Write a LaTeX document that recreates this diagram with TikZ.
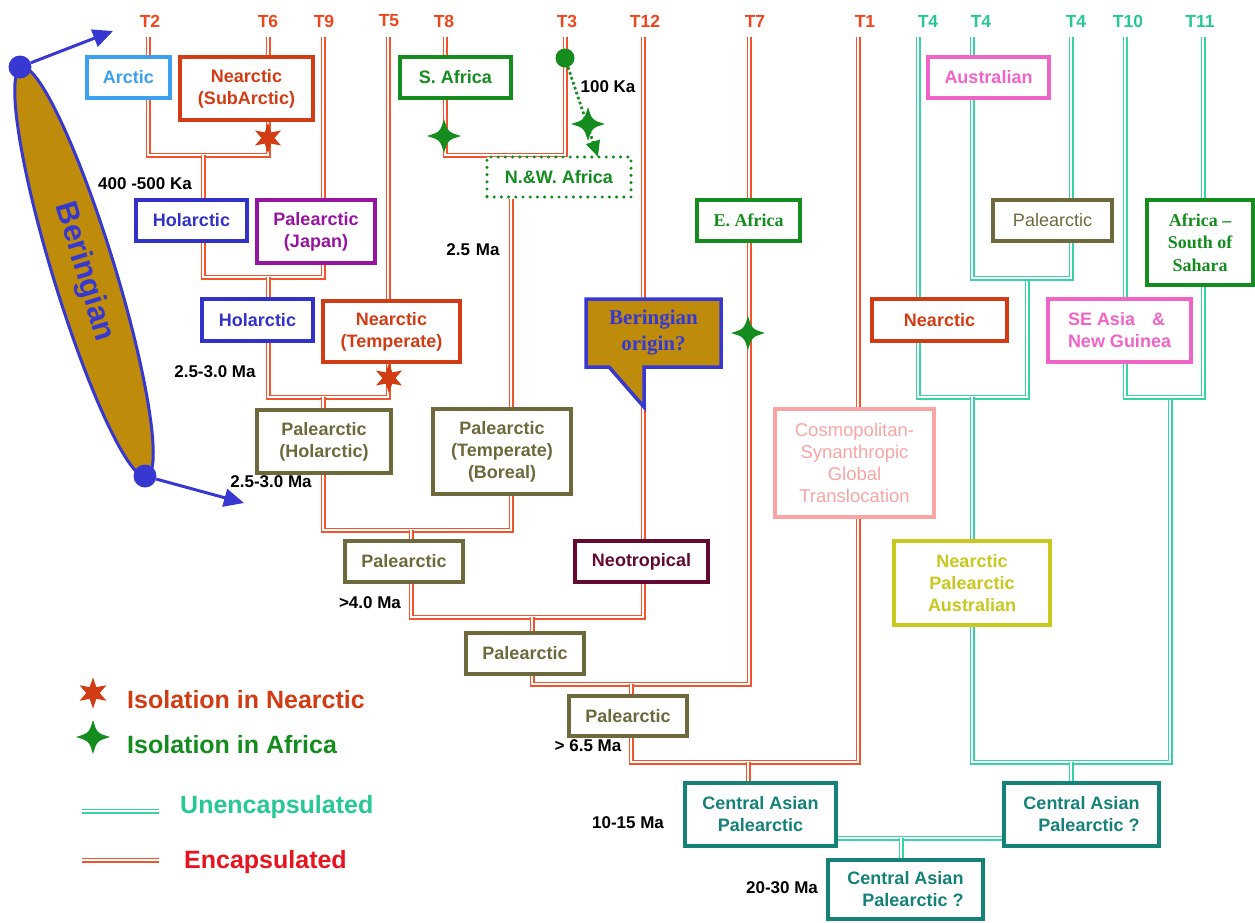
\documentclass[tikz,border=0pt]{standalone}
\usepackage{fontspec}
\setmainfont{Liberation Sans}
\newfontfamily\serifb{Liberation Serif}
\usetikzlibrary{shapes.geometric,arrows.meta}
\definecolor{encred}{RGB}{240,85,45}
\definecolor{unctea}{RGB}{55,210,165}
\definecolor{tred}{RGB}{240,70,30}
\definecolor{tteal}{RGB}{40,200,150}
\definecolor{arcblue}{RGB}{60,160,240}
\definecolor{nearred}{RGB}{210,60,20}
\definecolor{afgreen}{RGB}{20,140,30}
\definecolor{auspink}{RGB}{240,100,200}
\definecolor{holblue}{RGB}{50,50,200}
\definecolor{japurple}{RGB}{150,20,160}
\definecolor{olivebx}{RGB}{110,105,60}
\definecolor{cosmopink}{RGB}{250,165,165}
\definecolor{neomaroon}{RGB}{100,10,50}
\definecolor{npayellow}{RGB}{200,200,30}
\definecolor{cateal}{RGB}{20,130,120}
\definecolor{bergold}{RGB}{190,140,10}
\definecolor{berblue}{RGB}{55,55,210}
\definecolor{encleg}{RGB}{230,20,30}
\pgfdeclarelayer{bg}
\pgfsetlayers{bg,main}
\tikzset{
  enc/.style={draw=encred, double=white, double distance=1.8pt, line width=1.6pt},
  unc/.style={draw=unctea, double=white, double distance=1.8pt, line width=1.6pt},
  bx/.style={draw, line width=3.2pt, fill=white, align=center, inner sep=0pt,
    font=\bfseries\fontsize{18}{22}\selectfont},
  sz/.style 2 args={minimum width=#1pt, minimum height=#2pt},
  tlab/.style={font=\bfseries\fontsize{17.5}{20}\selectfont, inner sep=0pt},
  age/.style={font=\bfseries\fontsize{17}{20}\selectfont, inner sep=0pt, text=black},
  legtxt/.style={font=\bfseries\fontsize{25}{28}\selectfont, inner sep=0pt, anchor=base west},
  redstar/.style={star, star points=6, star point ratio=2.3, fill=nearred, draw=none,
    minimum size=#1pt, inner sep=0pt},
  sparkle/.pic={\fill[afgreen] (0,-17) .. controls (4,-4) .. (17,0)
     .. controls (4,4) .. (0,17) .. controls (-4,4) .. (-17,0)
     .. controls (-4,-4) .. (0,-17) -- cycle;},
}
\begin{document}
\begin{tikzpicture}[x=1pt,y=-1pt]
\useasboundingbox (0,0) rectangle (1255,922);

% ---------- top labels ----------
\node[tlab,text=tred] (lT2) at (150,21) {T2};
\node[tlab,text=tred] (lT6) at (268,21) {T6};
\node[tlab,text=tred] (lT9) at (324,21) {T9};
\node[tlab,text=tred] (lT5) at (389,21) {T5};
\node[tlab,text=tred] (lT8) at (444,21) {T8};
\node[tlab,text=tred] (lT3) at (567,21) {T3};
\node[tlab,text=tred] (lT12) at (645,21) {T12};
\node[tlab,text=tred] (lT7) at (755,21) {T7};
\node[tlab,text=tred] (lT1) at (865,21) {T1};
\node[tlab,text=tteal] (lT4a) at (928,21) {T4};
\node[tlab,text=tteal] (lT4b) at (981,21) {T4};
\node[tlab,text=tteal] (lT4c) at (1076,21) {T4};
\node[tlab,text=tteal] (lT10) at (1128,21) {T10};
\node[tlab,text=tteal] (lT11) at (1200,21) {T11};

\coordinate (c2) at (148,37);
\coordinate (c6) at (268,37);
\coordinate (c9) at (323,37);
\coordinate (c5) at (388,37);
\coordinate (c8) at (445,37);
\coordinate (c3) at (565,37);
\coordinate (c12) at (643,37);
\coordinate (c7) at (749,37);
\coordinate (c1) at (858,37);
\coordinate (c4a) at (918,37);
\coordinate (c4b) at (972,37);
\coordinate (c4c) at (1071,37);
\coordinate (c10) at (1125,37);
\coordinate (c11) at (1203,37);

\coordinate (j1) at (203,155);
\coordinate (j2) at (268,277);
\coordinate (j3) at (323,397);
\coordinate (j4) at (411,530);
\coordinate (j5) at (532,617);
\coordinate (j6) at (631,684);
\coordinate (j7) at (748,762);
\coordinate (jaf) at (505,155);
\coordinate (xnw) at (511,0);
\coordinate (j8) at (1027,278);
\coordinate (j9) at (972,397);
\coordinate (j10) at (1071,762);
\coordinate (j11) at (1170,397);
\coordinate (jh) at (901,838);

% ---------- boxes ----------
\node[bx,draw=arcblue,text=arcblue,sz={83}{41}] (arctic) at (128.5,77.5) {Arctic};
\node[bx,draw=nearred,text=nearred,sz={133}{63}] (nsub) at (246.5,88.5) {Nearctic\\(SubArctic)};
\node[bx,draw=afgreen,text=afgreen,sz={111}{41}] (safr) at (455.5,77.5) {S. Africa};
\node[bx,draw=auspink,text=auspink,sz={121}{41}] (austr) at (988.5,77.5) {Australian};
\node[bx,draw=holblue,text=holblue,sz={111}{41}] (hol1) at (191.5,220.5) {Holarctic};
\node[bx,draw=japurple,text=japurple,sz={118}{63}] (japan) at (316,231.5) {Palearctic\\(Japan)};
\node[bx,draw=afgreen,text=afgreen,sz={144}{40},line width=3.4pt,line cap=round,
  dash pattern=on 0pt off 7.2pt] (nwafr) at (559,177) {N.\&W. Africa};
\node[bx,draw=afgreen,text=afgreen,sz={103}{41},font=\serifb\bfseries\fontsize{18}{22}\selectfont] (eafr) at (748.5,220.5) {E. Africa};
\node[bx,draw=olivebx,text=olivebx,sz={119}{41},font=\fontsize{18}{22}\selectfont] (pal1) at (1052.5,220.5) {Palearctic};
\node[bx,draw=afgreen,text=afgreen,sz={106}{85},font=\serifb\bfseries\fontsize{18}{22.5}\selectfont] (ass) at (1200,242.5) {Africa \textendash\\South of\\Sahara};
\node[bx,draw=holblue,text=holblue,sz={111}{42}] (hol2) at (257.5,320) {Holarctic};
\node[bx,draw=nearred,text=nearred,sz={137}{61}] (ntemp) at (391.5,331.5) {Nearctic\\(Temperate)};
\node[bx,draw=nearred,text=nearred,sz={135}{42}] (nearR) at (939.5,320) {Nearctic};
\node[bx,draw=auspink,text=auspink,sz={143}{63},align=left] (seasia) at (1119.5,330.5) {SE Asia\hspace{17pt}\&\\New Guinea};
\node[bx,draw=olivebx,text=olivebx,sz={134}{63}] (palhol) at (324,441.5) {Palearctic\\(Holarctic)};
\node[bx,draw=olivebx,text=olivebx,sz={138}{85}] (paltb) at (502,451.5) {Palearctic\\(Temperate)\\(Boreal)};
\node[bx,draw=cosmopink,text=cosmopink,sz={159}{108},font=\fontsize{18.5}{22}\selectfont] (cosmo) at (854.5,463) {Cosmopolitan-\\Synanthropic\\Global\\Translocation};
\node[bx,draw=olivebx,text=olivebx,sz={118}{41}] (pal3) at (404,561.5) {Palearctic};
\node[bx,draw=neomaroon,text=neomaroon,sz={133}{41}] (neo) at (641.5,561.5) {Neotropical};
\node[bx,draw=npayellow,text=npayellow,sz={156}{84}] (npa) at (972,583) {Nearctic\\Palearctic\\Australian};
\node[bx,draw=olivebx,text=olivebx,sz={118}{41}] (pal4) at (525,653.5) {Palearctic};
\node[bx,draw=olivebx,text=olivebx,sz={118}{40}] (pal5) at (628,716) {Palearctic};
\node[bx,draw=cateal,text=cateal,sz={151}{63}] (ca1) at (760.5,814.5) {Central Asian\\Palearctic};
\node[bx,draw=cateal,text=cateal,sz={155}{63},align=right] (ca2) at (1081.5,814.5) {Central Asian\\Palearctic ?};
\node[bx,draw=cateal,text=cateal,sz={155}{59},align=right] (ca3) at (905.5,889.5) {Central Asian\\Palearctic ?};

% ---------- callout ----------
\filldraw[draw=berblue, fill=bergold, line width=3.5pt, line join=miter]
  (586,299) -- (721,299) -- (721,367) -- (644,367) -- (644,407) -- (609,367) -- (586,367) -- cycle;
\node[align=center, inner sep=0pt, text=berblue,
  font=\serifb\bfseries\fontsize{21}{26}\selectfont] (callout) at (653.5,333) {Beringian\\origin?};

% ---------- connectors ----------
\begin{pgfonlayer}{bg}
\draw[enc] (c2) -- (arctic.north -| c2);
\draw[enc] (arctic.south -| c2) |- (j1) -| (nsub.south -| c6);
\draw[enc] (c6) -- (nsub.north -| c6);
\draw[enc] (j1) -- (hol1.north -| j1);
\draw[enc] (hol1.south -| j1) |- (j2) -| (japan.south -| c9);
\draw[enc] (c9) -- (japan.north -| c9);
\draw[enc] (j2) -- (hol2.north -| j2);
\draw[enc] (hol2.south -| j2) |- (j3) -| (ntemp.south -| c5);
\draw[enc] (c5) -- (ntemp.north -| c5);
\draw[enc] (j3) -- (palhol.north -| j3);
\draw[enc] (palhol.south -| j3) |- (j4) -| (paltb.south -| xnw);
\draw[enc] (nwafr.south -| xnw) -- (paltb.north -| xnw);
\draw[enc] (c8) -- (safr.north -| c8);
\draw[enc] (safr.south -| c8) |- (jaf) -| (c3);
\draw[enc] (j4) -- (pal3.north -| j4);
\draw[enc] (pal3.south -| j4) |- (j5) -| (neo.south -| c12);
\draw[enc] (c12) -- (neo.north -| c12);
\draw[enc] (j5) -- (pal4.north -| j5);
\draw[enc] (pal4.south -| j5) |- (j6) -| (eafr.south -| c7);
\draw[enc] (c7) -- (eafr.north -| c7);
\draw[enc] (j6) -- (pal5.north -| j6);
\draw[enc] (pal5.south -| j6) |- (j7) -| (cosmo.south -| c1);
\draw[enc] (c1) -- (cosmo.north -| c1);
\draw[enc] (j7) -- (ca1.north -| j7);

\draw[unc] (c4a) -- (nearR.north -| c4a);
\draw[unc] (nearR.south -| c4a) |- (j9) -| (j8);
\draw[unc] (c4b) -- (austr.north -| c4b);
\draw[unc] (austr.south -| c4b) |- (j8) -| (pal1.south -| c4c);
\draw[unc] (c4c) -- (pal1.north -| c4c);
\draw[unc] (j9) -- (npa.north -| j9);
\draw[unc] (npa.south -| j9) |- (j10) -| (j11);
\draw[unc] (c10) -- (seasia.north -| c10);
\draw[unc] (seasia.south -| c10) |- (j11) -| (ass.south -| c11);
\draw[unc] (c11) -- (ass.north -| c11);
\draw[unc] (j10) -- (ca2.north -| j10);
\draw[unc] (ca1.east |- jh) -- (ca2.west |- jh);
\draw[unc] (jh) -- (ca3.north -| jh);
\end{pgfonlayer}

% ---------- isolation marks ----------
\node[redstar=30] (rs1) at (268,138) {};
\node[redstar=30] (rs2) at (389,378) {};
\pic at (444,136) {sparkle};
\pic at (748,333) {sparkle};

\node[circle, fill=afgreen, minimum size=19pt, inner sep=0pt] (gdot) at (565,58) {};
\coordinate (nwt) at (598,157);
\draw[afgreen, line width=2.8pt, dash pattern=on 2.6pt off 2.6pt,
  -{Triangle[length=16pt,width=14pt]}] (gdot) -- (nwt);
\pic at (588,124) {sparkle};

% ---------- ages ----------
\node[age] (a1) at (145,184) {400 -500 Ka};
\node[age] (a2) at (473,250) {2.5\hspace{6pt}Ma};
\node[age] (a3) at (608,87) {100 Ka};
\node[age] (a4) at (215,372) {2.5-3.0 Ma};
\node[age] (a5) at (271,482) {2.5-3.0 Ma};
\node[age] (a6) at (370,603) {>4.0 Ma};
\node[age] (a7) at (588,746) {> 6.5 Ma};
\node[age] (a8) at (628,823) {10-15 Ma};
\node[age] (a9) at (782,888) {20-30 Ma};

% ---------- Beringian ----------
\node[ellipse, draw=berblue, line width=3pt, fill=bergold, minimum width=428pt,
  minimum height=62pt, rotate=-73, inner sep=0pt] (ber) at (84,272) {};
\node[rotate=-73, inner sep=0pt, text=berblue,
  font=\bfseries\fontsize{31}{34}\selectfont] (bertxt) at (ber.center) {Beringian};
\node[circle, fill=berblue, minimum size=23pt, inner sep=0pt] (bd1) at (20,67) {};
\node[circle, fill=berblue, minimum size=23pt, inner sep=0pt] (bd2) at (145,476) {};
\coordinate (ba1) at (113,31);
\coordinate (ba2) at (244,503);
\draw[berblue, line width=3pt, -{Triangle[length=20pt,width=18pt]}] (bd1) -- (ba1);
\draw[berblue, line width=3pt, -{Triangle[length=20pt,width=18pt]}] (bd2) -- (ba2);

% ---------- legend ----------
\node[redstar=31] (lgs1) at (93,693) {};
\node[legtxt, text=nearred] (lg1) at (127,708) {Isolation in Nearctic};
\pic at (93,737) {sparkle};
\node[legtxt, text=afgreen] (lg2) at (127,753) {Isolation in Africa};
\coordinate (lu1) at (82,811);
\coordinate (lu2) at (159,811);
\draw[unc] (lu1) -- (lu2);
\node[legtxt, text=tteal] (lg3) at (180,813) {Unencapsulated};
\coordinate (le1) at (82,860);
\coordinate (le2) at (159,860);
\draw[enc] (le1) -- (le2);
\node[legtxt, text=encleg] (lg4) at (184,868) {Encapsulated};
\end{tikzpicture}
\end{document}
